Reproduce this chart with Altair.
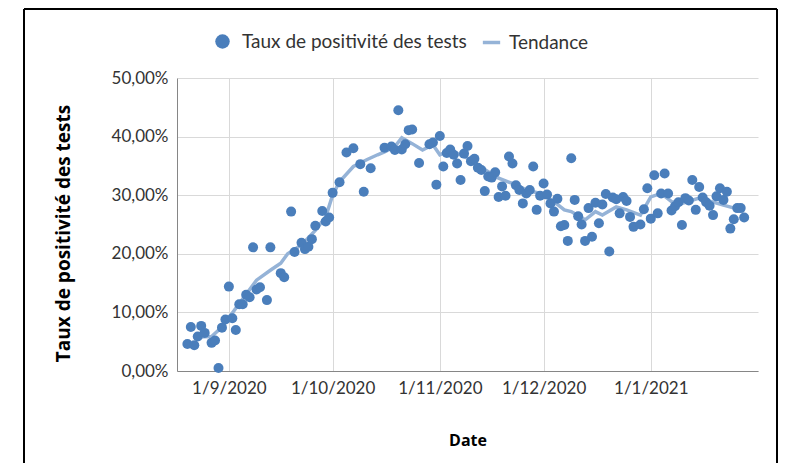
import altair as alt
import pandas as pd

dates = [
    "2020-08-20", "2020-08-21", "2020-08-22", "2020-08-23", "2020-08-24", "2020-08-25",
    "2020-08-27", "2020-08-28", "2020-08-29", "2020-08-30", "2020-08-31",
    "2020-09-01", "2020-09-02", "2020-09-03", "2020-09-04", "2020-09-05", "2020-09-06",
    "2020-09-07", "2020-09-08", "2020-09-09", "2020-09-10", "2020-09-12", "2020-09-13",
    "2020-09-16", "2020-09-17", "2020-09-19", "2020-09-20", "2020-09-22", "2020-09-23",
    "2020-09-24", "2020-09-25", "2020-09-26", "2020-09-28", "2020-09-29", "2020-09-30",
    "2020-10-01", "2020-10-03", "2020-10-05", "2020-10-07", "2020-10-09", "2020-10-10",
    "2020-10-12", "2020-10-16", "2020-10-18", "2020-10-19", "2020-10-20", "2020-10-21",
    "2020-10-22", "2020-10-23", "2020-10-24", "2020-10-26", "2020-10-29", "2020-10-30",
    "2020-10-31",
    "2020-11-01", "2020-11-02", "2020-11-03", "2020-11-04", "2020-11-05", "2020-11-06",
    "2020-11-07", "2020-11-08", "2020-11-09", "2020-11-10", "2020-11-11", "2020-11-12",
    "2020-11-13", "2020-11-14", "2020-11-15", "2020-11-16", "2020-11-17", "2020-11-18",
    "2020-11-19", "2020-11-20", "2020-11-21", "2020-11-22", "2020-11-23", "2020-11-24",
    "2020-11-25", "2020-11-26", "2020-11-27", "2020-11-28", "2020-11-29", "2020-11-30",
    "2020-12-01", "2020-12-02", "2020-12-03", "2020-12-04", "2020-12-05", "2020-12-06",
    "2020-12-07", "2020-12-08", "2020-12-09", "2020-12-10", "2020-12-11", "2020-12-12",
    "2020-12-13", "2020-12-14", "2020-12-15", "2020-12-16", "2020-12-17", "2020-12-18",
    "2020-12-19", "2020-12-20", "2020-12-21", "2020-12-22", "2020-12-23", "2020-12-24",
    "2020-12-25", "2020-12-26", "2020-12-27", "2020-12-29", "2020-12-30", "2020-12-31",
    "2021-01-01", "2021-01-02", "2021-01-03", "2021-01-04", "2021-01-05", "2021-01-06",
    "2021-01-07", "2021-01-08", "2021-01-09", "2021-01-10", "2021-01-11", "2021-01-12",
    "2021-01-13", "2021-01-14", "2021-01-15", "2021-01-16", "2021-01-17", "2021-01-18",
    "2021-01-19", "2021-01-20", "2021-01-21", "2021-01-22", "2021-01-23", "2021-01-24",
    "2021-01-25", "2021-01-26", "2021-01-27", "2021-01-28",
]

rates_pct = [
    4.6, 7.5, 4.4, 5.9, 7.7, 6.5,
    4.8, 5.2, 0.5, 7.4, 8.8,
    14.4, 9.0, 7.0, 11.4, 11.4, 13.0,
    12.6, 21.1, 13.9, 14.3, 12.1, 21.1,
    16.7, 16.0, 27.2, 20.3, 21.9, 20.8,
    21.2, 22.5, 24.8, 27.3, 25.5, 26.2,
    30.4, 32.2, 37.3, 38.0, 35.3, 30.6,
    34.6, 38.1, 38.3, 37.7, 44.5, 37.8,
    38.7, 41.1, 41.2, 35.5, 38.7, 39.0,
    31.8,
    40.1, 34.9, 37.2, 37.8, 36.9, 35.4,
    32.6, 37.1, 38.4, 35.8, 36.2, 34.7,
    34.3, 30.7, 33.2, 33.0, 33.9, 29.7,
    31.5, 29.9, 36.6, 35.4, 31.7, 30.9,
    28.6, 30.3, 30.9, 34.9, 27.5, 29.9,
    32.0, 30.1, 28.6, 27.2, 29.4, 24.7,
    24.9, 22.2, 36.3, 29.2, 26.4, 25.0,
    22.2, 27.8, 22.9, 28.7, 25.2, 28.4,
    30.2, 20.4, 29.6, 29.3, 26.9, 29.7,
    29.0, 26.3, 24.6, 25.0, 27.6, 31.2,
    26.0, 33.4, 26.9, 30.3, 33.7, 30.3,
    27.4, 28.1, 28.8, 24.9, 29.5, 29.1,
    32.6, 27.5, 31.4, 29.6, 28.8, 28.2,
    26.6, 29.8, 31.2, 29.2, 30.6, 24.3,
    25.9, 27.8, 27.8, 26.2,
]

trend_dates = [
    "2020-08-23", "2020-08-27", "2020-08-30", "2020-09-02", "2020-09-04", "2020-09-09",
    "2020-09-13", "2020-09-16", "2020-09-18", "2020-09-22", "2020-09-26", "2020-09-29",
    "2020-10-01", "2020-10-03", "2020-10-07", "2020-10-11", "2020-10-14", "2020-10-16",
    "2020-10-19", "2020-10-21", "2020-10-24", "2020-10-27", "2020-10-30", "2020-11-01",
    "2020-11-04", "2020-11-09", "2020-11-12", "2020-11-18", "2020-11-22", "2020-11-26",
    "2020-11-30", "2020-12-02", "2020-12-04", "2020-12-07", "2020-12-09", "2020-12-13",
    "2020-12-16", "2020-12-18", "2020-12-22", "2020-12-25", "2020-12-29", "2021-01-01",
    "2021-01-04", "2021-01-07", "2021-01-10", "2021-01-15", "2021-01-22", "2021-01-27",
    "2021-01-28",
]
trend_pct = [
    5.8, 5.9, 7.5, 9.9, 11.5, 15.5,
    17.2, 18.4, 20.0, 21.5, 24.0, 26.3,
    30.0, 32.3, 34.9, 36.1, 36.9, 37.4,
    38.3, 39.8, 38.8, 37.7, 38.6, 36.9,
    37.7, 36.3, 35.1, 32.9, 32.0, 30.9,
    30.3, 29.7, 28.9, 27.5, 27.2, 25.8,
    27.2, 26.6, 28.0, 27.5, 26.6, 29.7,
    30.3, 28.9, 28.6, 29.5, 28.3, 27.5,
    27.3,
]

series_name = "Taux de positivité des tests"
trend_name = "Tendance"
y_ticks = [0, 0.1, 0.2, 0.3, 0.4, 0.5]
month_ticks = [(2020, 9), (2020, 10), (2020, 11), (2020, 12), (2021, 1)]

df = pd.DataFrame({"date": dates, "rate": [v / 100 for v in rates_pct]})
df["series"] = series_name
tdf = pd.DataFrame({"date": trend_dates, "rate": [v / 100 for v in trend_pct]})
tdf["series"] = trend_name

FONT = "Lato"
TITLE_FONT = "Open Sans"
POINT_COLOR = "#4a7ebb"
LINE_COLOR = "#95b3d7"

x_enc = alt.X(
    "date:T",
    scale=alt.Scale(
        type="utc",
        domain=[
            alt.DateTime(year=2020, month=8, date=17, utc=True),
            alt.DateTime(year=2021, month=2, date=1, utc=True),
        ],
    ),
    axis=alt.Axis(
        values=[alt.DateTime(year=y, month=m, date=1, utc=True) for y, m in month_ticks],
        labelExpr="utcFormat(datum.value, '%-d/%-m/%Y')",
        title="Date",
        titlePadding=36,
        titleFontSize=16,
        labelPadding=9,
        domainColor="#868686",
    ),
)
y_enc = alt.Y(
    "rate:Q",
    scale=alt.Scale(domain=[0, 0.5]),
    axis=alt.Axis(
        values=y_ticks,
        labelExpr="replace(format(datum.value, '.2%'), '.', ',')",
        title=series_name,
        titlePadding=38,
        titleFontSize=19,
        titleY=155,
        labelPadding=9,
        domainColor="#868686",
    ),
)

trend = (
    alt.Chart(tdf)
    .mark_line(strokeWidth=3.5)
    .encode(
        x=x_enc,
        y=y_enc,
        stroke=alt.Stroke(
            "series:N",
            scale=alt.Scale(domain=[trend_name], range=[LINE_COLOR]),
            legend=alt.Legend(
                orient="none", legendX=304, legendY=-46, title=None,
                labelFont=FONT, labelFontSize=19, labelColor="#333333", labelLimit=0,
                symbolSize=300, symbolStrokeWidth=3.5, labelOffset=7, padding=0,
            ),
        ),
    )
)

points = (
    alt.Chart(df)
    .mark_circle(size=100, opacity=1)
    .encode(
        x=x_enc,
        y=y_enc,
        fill=alt.Fill(
            "series:N",
            scale=alt.Scale(domain=[series_name], range=[POINT_COLOR]),
            legend=alt.Legend(
                orient="none", legendX=36, legendY=-46, title=None,
                labelFont=FONT, labelFontSize=19, labelColor="#333333", labelLimit=0,
                symbolSize=210, symbolOpacity=1, labelOffset=10, padding=0,
            ),
        ),
    )
)

frame_df = pd.DataFrame({"k": [0]})
frame_left = alt.Chart(frame_df).mark_rule(color="black", strokeWidth=2, clip=False).encode(
    x=alt.value(-153), y=alt.value(-69), y2=alt.value(420)
)
frame_right = alt.Chart(frame_df).mark_rule(color="black", strokeWidth=2, clip=False).encode(
    x=alt.value(600), y=alt.value(-69), y2=alt.value(420)
)
frame_top = alt.Chart(frame_df).mark_rule(color="black", strokeWidth=2, clip=False).encode(
    x=alt.value(-153), x2=alt.value(600), y=alt.value(-69)
)

chart = (
    alt.layer(trend, points, frame_left, frame_right, frame_top)
    .resolve_scale(fill="independent", stroke="independent")
    .properties(
        width=581,
        height=293,
        autosize=alt.AutoSizeParams(type="none"),
        padding={"left": 169, "top": 70, "right": 20, "bottom": 92},
        background="white",
    )
    .configure_view(stroke=None)
    .configure_axis(
        grid=True,
        gridColor="#d9d9d9",
        gridWidth=1,
        ticks=False,
        labelFont=FONT,
        labelFontSize=17,
        labelColor="#333333",
        titleFont=TITLE_FONT,
        titleFontWeight="bold",
        titleColor="#000000",
    )
)

chart.save("out.html", embed_options={"renderer": "svg", "actions": False})
